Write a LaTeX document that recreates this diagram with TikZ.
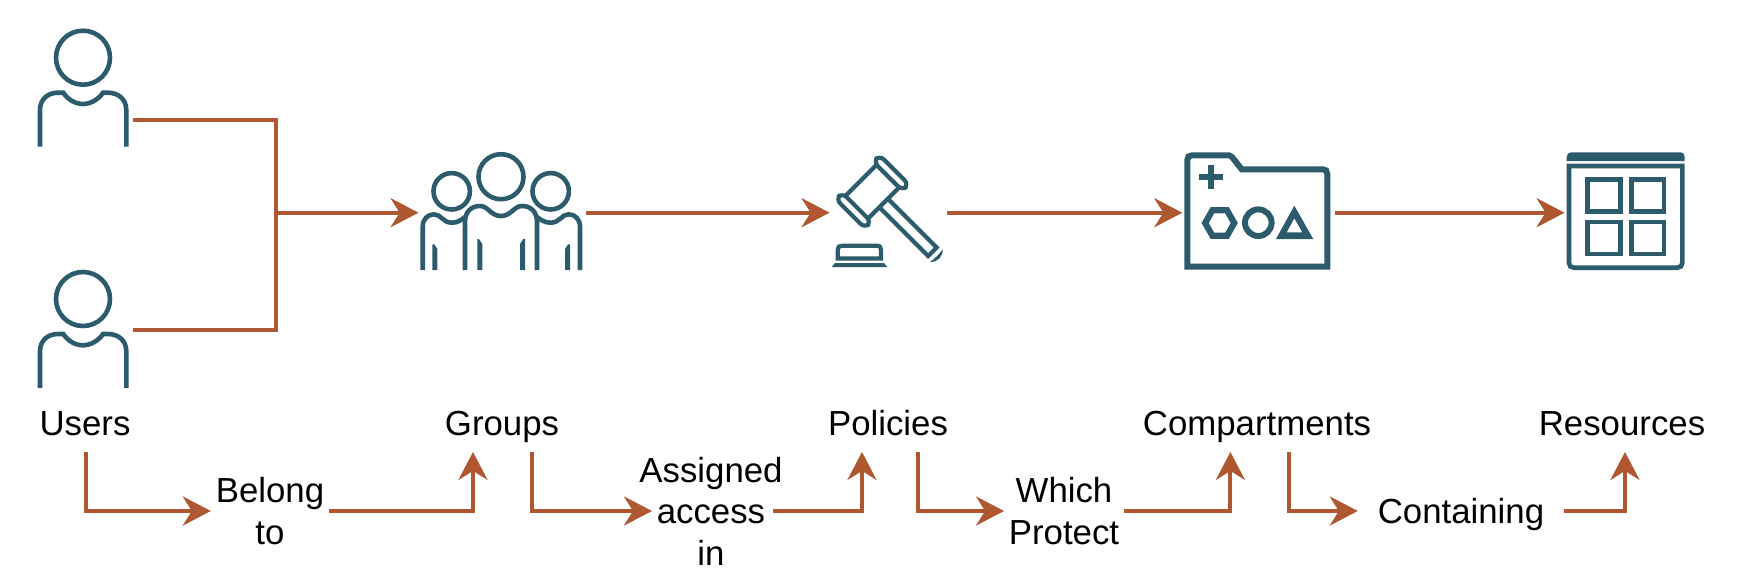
\documentclass[tikz,border=0pt]{standalone}
\usepackage{fontspec}
\setmainfont{Liberation Sans}
\usetikzlibrary{arrows.meta}
\definecolor{iconteal}{HTML}{2C5B6B}
\definecolor{linkrust}{HTML}{AE5730}
\tikzset{
  icon/.style={draw=iconteal,line width=2.3pt},
  gavel/.style={draw=iconteal,line width=2.1pt},
  iconfill/.style={fill=iconteal,draw=none},
  iconbox/.style={inner sep=0pt,minimum height=10pt},
  lnk/.style={draw=linkrust,line width=2pt},
  arr/.style={lnk,-{Stealth[length=14pt,width=14.5pt,inset=4.5pt]}},
  toplab/.style={font=\fontsize{17.4}{21}\selectfont,inner sep=0pt,anchor=base,text height=12pt,text depth=8pt},
  midlab/.style={font=\fontsize{17.4}{20.7}\selectfont,inner sep=0pt,align=center}
}
\begin{document}
\begin{tikzpicture}[x=0.5pt,y=-0.5pt]
\useasboundingbox (0,0) rectangle (1742,584);
\foreach \dy in {0,241.3}{
\begin{scope}[shift={(0,\dy)}]
\draw[icon] (83,57.7) circle[radius=27];
\draw[icon] (40,146.5) -- (40,110) .. controls (40,99) and (48,92.7) .. (58,92.7) -- (63.3,92.7) .. controls (68,100) and (76,104) .. (83,104) .. controls (90,104) and (98,100) .. (103,92.7) -- (108,92.7) .. controls (118,92.7) and (126.3,99) .. (126.3,110) -- (126.3,146.5);
\end{scope}
}
\draw[icon] (501,176.7) circle[radius=22.5];
\draw[icon] (451.7,191.3) circle[radius=18.2];
\draw[icon] (550.7,191.3) circle[radius=18.2];
\draw[icon] (465,270) -- (465,222) .. controls (465,212) and (471,206) .. (480,206) .. controls (488,206) and (491,216) .. (501,216) .. controls (511,216) and (514,206) .. (522,206) .. controls (531,206) and (537,212) .. (537,222) -- (537,270);
\draw[icon] (422.7,270) -- (422.7,226.7) .. controls (422.7,219) and (428,214.3) .. (434,214.3) .. controls (441,214.3) and (443,222.7) .. (451.7,222.7) .. controls (458,222.7) and (461,220) .. (465,217);
\draw[icon] (580,270) -- (580,226.7) .. controls (580,219) and (574.7,214.3) .. (568.7,214.3) .. controls (561.7,214.3) and (559.7,222.7) .. (550.7,222.7) .. controls (544.7,222.7) and (541,220) .. (537,217);
\fill[iconfill] (432.3,270) -- (432.3,245) -- (434,244) -- (437.3,249) -- (437.3,270) -- cycle;
\fill[iconfill] (477.3,270) -- (477.3,239) -- (479,239) -- (482.3,244) -- (482.3,270) -- cycle;
\fill[iconfill] (525,270) -- (525,239) -- (523.3,239) -- (520,244) -- (520,270) -- cycle;
\fill[iconfill] (570,270) -- (570,245) -- (568.3,244) -- (565,249) -- (565,270) -- cycle;
\begin{scope}[shift={(872.3,191.7)},rotate=-45]
\draw[gavel,rounded corners=3pt] (-20.5,-31) rectangle (20.5,-22);
\draw[gavel,rounded corners=3pt] (-20.5,22) rectangle (20.5,31);
\draw[gavel] (-16,-22) -- (-16,22) (16,-22) -- (16,22);
\draw[gavel] (16,-6) -- (85,-6) -- (85,6) -- (16,6);
\fill[iconfill] (90.5,-9) .. controls (96,-4) and (96,4) .. (90.5,9) .. controls (91.5,4) and (91.5,-4) .. (90.5,-9) -- cycle;
\end{scope}
\draw[gavel] (837.7,258.5) -- (837.7,250) .. controls (837.7,247) and (839,245.7) .. (842,245.7) -- (876.7,245.7) .. controls (880,245.7) and (881,247) .. (881,250) -- (881,258.5) -- cycle;
\fill[iconfill] (831.7,267) -- (835,263) -- (884,263) -- (887.3,267) -- cycle;
\draw[icon,line width=3pt] (1187.3,266.7) -- (1187.3,160) .. controls (1187.3,157) and (1189,155.3) .. (1192,155.3) -- (1229,155.3) .. controls (1230,155.3) and (1231,156) .. (1232,157) -- (1241.7,169.3) -- (1322.7,169.3) .. controls (1325.7,169.3) and (1327.3,171) .. (1327.3,174) -- (1327.3,266.7) -- cycle;
\draw[icon,line width=3pt] (1198.7,177) -- (1223.3,177) (1211,164.7) -- (1211,189.3);
\draw[icon,line width=3.1pt] (1205.1,223) -- (1212.4,210.3) -- (1227,210.3) -- (1234.3,223) -- (1227,235.7) -- (1212.4,235.7) -- cycle;
\draw[icon,line width=3pt] (1258.3,222.7) circle[radius=13.3];
\fill[iconfill,even odd rule] (1294.3,205.7) -- (1276,239) -- (1313.3,239) -- cycle (1294.3,218.3) -- (1286.7,232.3) -- (1302.3,232.3) -- cycle;
\fill[iconfill] (1566.7,161) -- (1566.7,157) .. controls (1566.7,154) and (1568.7,152.3) .. (1571,152.3) -- (1680.7,152.3) .. controls (1683,152.3) and (1684.7,154) .. (1684.7,157) -- (1684.7,161) -- cycle;
\draw[icon,line width=2.3pt] (1569,166) -- (1569,263) .. controls (1569,266) and (1571,267.7) .. (1574,267.7) -- (1677.3,267.7) .. controls (1680.3,267.7) and (1682.3,266) .. (1682.3,263) -- (1682.3,166) -- cycle;
\foreach \xa in {1587.7,1631.3}{
\foreach \ya in {179.3,222}{
\draw[icon] (\xa,\ya) rectangle ++(32.6,32);
}
}
\node[iconbox,minimum width=50pt] (user1) at (83,120) {};
\node[iconbox,minimum width=50pt] (user2) at (83,330) {};
\coordinate (merge) at (276,212.7);
\node[iconbox,minimum width=83.5pt] (grp) at (502.5,212.7) {};
\node[iconbox,minimum width=58.5pt] (pol) at (888.5,212.7) {};
\node[iconbox,minimum width=76.15pt] (comp) at (1258.85,212.7) {};
\node[iconbox,minimum width=62.5pt] (res) at (1627.5,212.7) {};
\node[toplab] (users) at (85,435.5) {Users};
\node[toplab] (groups) at (502,435.5) {Groups};
\node[toplab] (policies) at (888,435.5) {Policies};
\node[toplab] (comparts) at (1257,435.5) {Compartments};
\node[toplab] (resources) at (1622,435.5) {Resources};
\node[midlab,inner xsep=2.3pt] (belong) at (270,511) {Belong\\to};
\node[midlab] (assigned) at (711,511) {Assigned\\access\\in};
\node[midlab,inner xsep=2.2pt] (protect) at (1064,511) {Which\\Protect};
\node[midlab,inner xsep=9.8pt,text depth=0pt] (contain) at (1461,511) {Containing};
\draw[lnk] (user1.east) -| (merge);
\draw[lnk] (user2.east) -| (merge);
\draw[arr] (merge) -- (grp.west);
\draw[arr] (grp.east) -- (pol.west);
\draw[arr] (pol.east) -- (comp.west);
\draw[arr] (comp.east) -- (res.west);
\draw[arr] ([xshift=0.5pt]users.south) |- (belong.west);
\draw[arr] (belong.east) -| ([xshift=-14.5pt]groups.south);
\draw[arr] ([xshift=15pt]groups.south) |- ([xshift=6.5pt]assigned.west);
\draw[arr] ([xshift=-5pt]assigned.east) -| ([xshift=-13pt]policies.south);
\draw[arr] ([xshift=15pt]policies.south) |- (protect.west);
\draw[arr] (protect.east) -| ([xshift=-13.3pt]comparts.south);
\draw[arr] ([xshift=16pt]comparts.south) |- (contain.west);
\draw[arr] (contain.east) -| ([xshift=1.5pt]resources.south);
\end{tikzpicture}
\end{document}
